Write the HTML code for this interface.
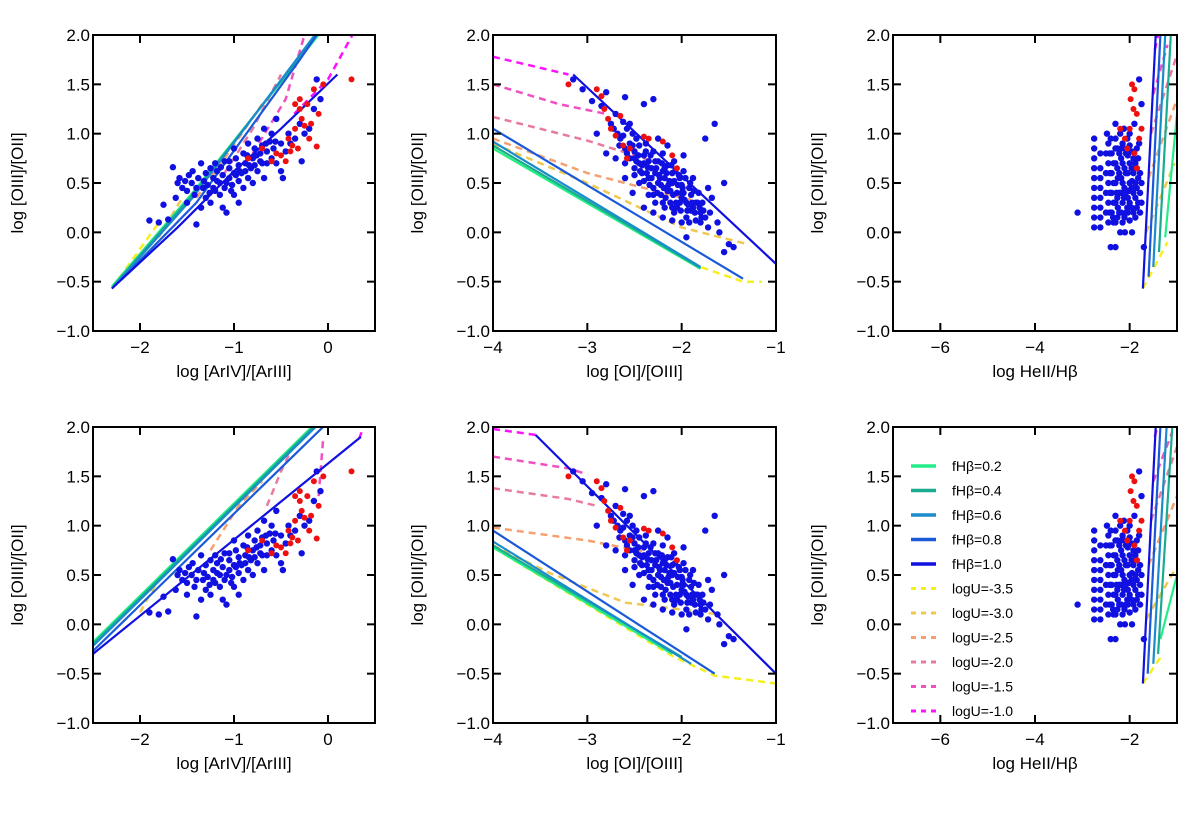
<!DOCTYPE html>
<html><head><meta charset="utf-8"><style>
body{margin:0;background:#fff;}
svg text{font-family:"Liberation Sans","DejaVu Sans",sans-serif;fill:#000;}
</style></head><body>
<svg id="fig" width="1200" height="811" viewBox="0 0 1200 811" xmlns="http://www.w3.org/2000/svg"></svg>
<script>
// ---- data ----
const fhbLabels=["fHβ=0.2","fHβ=0.4","fHβ=0.6","fHβ=0.8","fHβ=1.0"];
const fhbColors=["#22ee88","#1aab90","#1a8ccc","#1a5ad8","#1010e0"];
const logULabels=["logU=-3.5","logU=-3.0","logU=-2.5","logU=-2.0","logU=-1.5","logU=-1.0"];
const logUColors=["#f4f020","#f0c850","#f4a070","#e87aa0","#f050c0","#ff10ff"];
const yTicks=[-1.0,-0.5,0.0,0.5,1.0,1.5,2.0];
const xTicksA=[-2,-1,0];
const xTicksB=[-4,-3,-2,-1];
const xTicksC=[-6,-4,-2];
// scatter (shared by both rows)
const scatAblue=[[-1.9,0.12],[-1.8,0.1],[-1.75,0.28],[-1.7,0.13],[-1.65,0.66],[-1.6,0.5],[-1.58,0.55],[-1.55,0.45],[-1.5,0.3],[-1.5,0.42],[-1.45,0.5],[-1.42,0.38],[-1.4,0.08],[-1.38,0.55],[-1.35,0.25],[-1.33,0.45],[-1.3,0.6],[-1.3,0.35],[-1.28,0.48],[-1.25,0.3],[-1.22,0.55],[-1.2,0.42],[-1.2,0.7],[-1.18,0.62],[-1.15,0.5],[-1.15,0.38],[-1.12,0.58],[-1.1,0.45],[-1.1,0.72],[-1.08,0.2],[-1.05,0.55],[-1.05,0.65],[-1.02,0.48],[-1.0,0.6],[-1.0,0.38],[-0.98,0.75],[-0.95,0.52],[-0.95,0.68],[-0.92,0.6],[-0.9,0.45],[-0.9,0.8],[-0.88,0.7],[-0.85,0.55],[-0.85,0.9],[-0.82,0.65],[-0.8,0.75],[-0.8,0.5],[-0.78,0.85],[-0.75,0.62],[-0.75,0.95],[-0.72,0.8],[-0.7,0.7],[-0.7,0.88],[-0.68,0.55],[-0.65,0.82],[-0.62,0.92],[-0.6,0.75],[-0.6,1.0],[-0.58,0.85],[-0.55,0.7],[-0.55,1.15],[-0.5,0.9],[-0.5,0.62],[-0.48,0.55],[-0.45,0.82],[-0.42,1.0],[-0.4,0.9],[-0.35,0.95],[-0.3,1.1],[-0.28,0.72],[-0.25,1.0],[-0.2,1.05],[-0.15,1.25],[-0.12,1.55],[-0.08,1.35],[-1.48,0.58],[-1.62,0.35],[-1.25,0.65],[-1.0,0.85],[-0.68,1.05],[-1.35,0.7],[-1.12,0.25],[-0.95,0.3],[-1.4,0.45],[-1.18,0.52],[-1.05,0.72],[-0.88,0.62],[-0.78,0.68],[-0.65,0.7],[-1.32,0.52],[-1.22,0.45],[-1.08,0.5],[-0.98,0.58],[-0.86,0.78],[-0.76,0.78],[-0.66,0.9],[-0.56,0.92],[-1.44,0.62],[-1.26,0.4],[-1.14,0.66],[-0.94,0.62],[-0.84,0.68],[-0.72,0.72],[-1.52,0.52],[-1.03,0.42]];
const scatAred=[[-0.85,0.75],[-0.7,0.85],[-0.6,0.72],[-0.55,0.8],[-0.5,0.78],[-0.45,0.72],[-0.42,0.95],[-0.38,0.88],[-0.35,1.05],[-0.32,0.85],[-0.3,1.25],[-0.28,1.15],[-0.25,1.08],[-0.22,1.3],[-0.2,0.95],[-0.18,1.1],[-0.35,1.3],[-0.15,1.45],[-0.1,1.2],[0.25,1.55],[-0.05,1.5],[-0.3,1.35],[-0.12,0.87],[-0.4,0.82]];
const scatBblue=[[-3.15,1.55],[-3.05,1.45],[-2.95,1.33],[-2.85,1.28],[-2.8,1.42],[-2.75,1.1],[-2.7,1.2],[-2.68,1.0],[-2.65,0.95],[-2.62,1.12],[-2.6,0.85],[-2.58,1.05],[-2.55,0.9],[-2.55,0.75],[-2.52,1.0],[-2.5,0.82],[-2.5,0.65],[-2.48,0.95],[-2.45,0.7],[-2.45,0.88],[-2.42,0.6],[-2.4,0.78],[-2.4,1.3],[-2.38,0.9],[-2.35,0.55],[-2.35,0.72],[-2.32,0.65],[-2.3,0.82],[-2.3,0.45],[-2.28,0.6],[-2.25,0.72],[-2.25,0.5],[-2.22,0.38],[-2.2,0.62],[-2.2,0.8],[-2.18,0.55],[-2.15,0.42],[-2.15,0.68],[-2.12,0.3],[-2.1,0.5],[-2.1,0.6],[-2.08,0.72],[-2.05,0.4],[-2.05,0.25],[-2.02,0.55],[-2.0,0.35],[-2.0,0.48],[-1.98,0.62],[-1.95,0.3],[-1.95,0.15],[-1.92,0.45],[-1.9,0.38],[-1.9,0.22],[-1.88,0.55],[-1.85,0.3],[-1.85,0.12],[-1.82,0.4],[-1.8,0.2],[-1.78,0.3],[-1.75,0.15],[-1.72,0.05],[-1.7,0.2],[-1.68,0.35],[-1.6,0.0],[-1.55,-0.2],[-1.5,-0.12],[-1.45,-0.15],[-1.65,1.1],[-1.75,0.95],[-2.3,1.35],[-2.6,1.37],[-2.52,0.4],[-2.4,0.25],[-2.3,0.2],[-2.2,0.15],[-2.1,0.12],[-2.6,0.55],[-2.7,0.75],[-2.8,0.8],[-2.9,1.0],[-2.0,0.1],[-1.95,-0.05],[-1.62,0.1],[-1.55,0.5],[-2.25,0.95],[-2.15,0.88],[-1.98,0.78],[-1.72,0.45],[-2.45,0.5],[-2.35,0.38],[-2.28,0.3],[-2.18,0.25],[-2.08,0.2],[-2.02,0.3],[-1.92,0.1],[-2.12,0.42],[-2.22,0.48],[-2.32,0.55],[-2.42,0.68],[-2.5,0.75],[-2.38,0.82],[-2.28,0.72],[-2.18,0.65],[-2.08,0.52],[-1.98,0.4],[-1.88,0.25],[-1.8,0.1],[-2.62,0.98],[-2.55,1.1],[-2.72,1.05],
[-2.58,0.8],[-2.52,0.88],[-2.46,0.78],[-2.44,0.62],[-2.4,0.7],[-2.37,0.6],[-2.34,0.48],[-2.33,0.78],[-2.27,0.65],[-2.26,0.4],[-2.24,0.58],[-2.21,0.7],[-2.19,0.45],[-2.17,0.35],[-2.16,0.6],[-2.13,0.52],[-2.11,0.68],[-2.09,0.38],[-2.07,0.62],[-2.06,0.3],[-2.04,0.48],[-2.03,0.58],[-2.01,0.22],[-1.99,0.45],[-1.97,0.33],[-1.96,0.55],[-1.93,0.28],[-1.91,0.5],[-1.89,0.3],[-1.87,0.42],[-1.86,0.2],[-1.83,0.3],[-1.81,0.25],[-1.79,0.15],[-1.77,0.22],[-2.48,0.72],[-2.36,0.66],[-2.23,0.55],[-2.14,0.48],[-2.0,0.4],[-2.6,0.7],[-2.66,0.88],[-2.5,0.58],[-2.4,0.52],[-2.3,0.38],[-2.2,0.3],[-2.1,0.25],[-1.94,0.22]];
const scatBred=[[-3.2,1.5],[-2.9,1.45],[-2.85,1.38],[-2.82,1.25],[-2.78,1.15],[-2.75,1.05],[-2.7,0.98],[-2.65,1.18],[-2.62,0.88],[-2.55,0.85],[-2.4,0.97],[-2.35,0.95],[-2.2,0.92],[-2.1,0.78],[-2.05,0.65],[-2.58,0.75]];
const scatCblue=[[-2.75,0.05],[-2.75,0.15],[-2.75,0.25],[-2.75,0.35],[-2.75,0.45],[-2.75,0.55],[-2.75,0.65],[-2.75,0.75],[-2.75,0.85],[-2.75,0.95],[-2.62,0.05],[-2.62,0.15],[-2.62,0.25],[-2.62,0.35],[-2.62,0.45],[-2.62,0.55],[-2.62,0.65],[-2.62,0.8],[-3.1,0.2],[-2.45,0.1],[-2.45,0.3],[-2.45,0.5],[-2.45,0.7],[-2.45,0.9],[-2.38,0.2],[-2.38,0.4],[-2.38,0.6],[-2.38,0.8],[-2.3,0.1],[-2.3,0.3],[-2.3,0.5],[-2.3,0.7],[-2.3,0.85],[-2.22,0.2],[-2.22,0.4],[-2.22,0.6],[-2.22,0.8],[-2.15,0.1],[-2.15,0.3],[-2.15,0.5],[-2.15,0.7],[-2.15,0.9],[-2.08,0.2],[-2.08,0.4],[-2.08,0.6],[-2.08,0.8],[-2.0,0.12],[-2.0,0.3],[-2.0,0.5],[-2.0,0.7],[-2.0,0.88],[-1.92,0.2],[-1.92,0.4],[-1.92,0.6],[-1.92,0.75],[-1.85,0.25],[-1.85,0.45],[-1.85,0.65],[-1.78,0.2],[-1.78,0.4],[-1.78,0.6],[-1.8,1.55],[-1.75,1.3],[-2.3,1.1],[-2.4,0.95],[-1.9,1.1],[-2.05,0.95],[-1.8,0.9],[-2.4,-0.15],[-2.3,-0.15],[-2.1,0.0],[-1.95,0.0],[-2.2,0.0],[-1.7,-0.15],[-2.35,0.15],[-2.25,0.25],[-2.12,0.35],[-2.02,0.42],[-1.95,0.52],[-2.25,0.55],[-2.18,0.75],[-1.88,0.35],[-2.05,0.25],[-2.28,0.4],
[-2.42,0.2],[-2.42,0.4],[-2.42,0.6],[-2.42,0.8],[-2.34,0.1],[-2.34,0.3],[-2.34,0.5],[-2.34,0.7],[-2.26,0.15],[-2.26,0.35],[-2.26,0.65],[-2.26,0.85],[-2.18,0.2],[-2.18,0.4],[-2.18,0.55],[-2.18,0.85],[-2.11,0.15],[-2.11,0.45],[-2.11,0.65],[-2.11,0.85],[-2.04,0.2],[-2.04,0.35],[-2.04,0.6],[-2.04,0.78],[-1.96,0.25],[-1.96,0.45],[-1.96,0.65],[-1.96,0.82],[-1.88,0.15],[-1.88,0.5],[-1.88,0.7],[-1.82,0.3],[-1.82,0.55],[-1.82,0.75],[-1.75,0.3],[-1.75,0.5],[-2.5,0.2],[-2.5,0.4],[-2.5,0.6],[-2.5,0.8],[-2.48,1.0],[-2.2,1.0],[-2.0,1.0],[-1.85,0.85],[-2.12,1.05],[-2.3,0.95]];
const scatCred=[[-1.95,1.5],[-1.9,1.45],[-1.98,1.35],[-1.92,1.25],[-1.85,1.2],[-2.2,1.05],[-2.1,0.95],[-2.05,0.85],[-1.9,0.8],[-1.8,0.95],[-1.75,1.05],[-2.0,1.05],[-1.85,0.65]];
// model lines per panel: fhb[0..4], logU[0..5]
const p1fhb=[[[-2.3,-0.55],[-1.46,0.38],[-0.1,2.0]],[[-2.28,-0.54],[-1.45,0.37],[-0.12,2.0]],[[-2.26,-0.53],[-1.44,0.35],[-0.14,2.0]],[[-2.2,-0.48],[-1.4,0.3],[-0.3,1.75],[-0.12,2.0]],[[-2.3,-0.57],[-1.6,0.05],[-1.0,0.62],[-0.5,1.05],[0.1,1.6]]];
const p1logU=[[[-2.3,-0.57],[-1.8,0.1]],[[-1.8,-0.05],[-1.55,0.35]],[[-1.4,0.35],[-1.1,0.75],[-0.7,1.3]],[[-1.1,0.6],[-0.8,1.05],[-0.5,1.6]],[[-0.8,0.8],[-0.45,1.35],[-0.25,2.0]],[[-0.36,1.2],[0.0,1.55],[0.26,2.0]]];
const p2fhb=[[[-4,0.85],[-1.8,-0.37]],[[-4,0.88],[-1.8,-0.36]],[[-4,0.92],[-1.8,-0.35]],[[-4,1.05],[-1.35,-0.47]],[[-3.15,1.6],[-1,-0.32]]];
const p2logU=[[[-4,0.85],[-1.8,-0.35],[-1.35,-0.5],[-1.15,-0.5]],[[-4,0.9],[-3,0.5],[-2,0.05],[-1.3,-0.12]],[[-4,0.95],[-3,0.6],[-2.2,0.4],[-1.9,0.33]],[[-4,1.17],[-3,0.93],[-2.3,0.72]],[[-4,1.5],[-3.3,1.3],[-2.8,1.2]],[[-4,1.78],[-3.2,1.6]]];
const p3fhb=[[[-1.25,-0.05],[-1.0,1.2]],[[-1.38,-0.2],[-1.13,2.0]],[[-1.5,-0.35],[-1.25,2.0]],[[-1.6,-0.45],[-1.35,2.0]],[[-1.72,-0.57],[-1.45,2.0]]];
const p3logU=[[[-1.72,-0.57],[-1.2,-0.1]],[[-1.65,0.0],[-1.05,0.7]],[[-1.6,0.55],[-1.0,1.35]],[[-1.55,1.0],[-1.0,1.8]],[[-1.5,1.4],[-1.2,1.9]],[[-1.47,1.85],[-1.4,2.0]]];
const p4fhb=[[[-2.5,-0.18],[-0.12,2.05]],[[-2.5,-0.2],[-0.1,2.05]],[[-2.5,-0.22],[-0.08,2.05]],[[-2.5,-0.27],[-0.02,2.03]],[[-2.5,-0.3],[0.35,1.9]]];
const p4logU=[[[-2.5,-0.2],[-2.2,0.1]],[[-2.0,0.12],[-1.75,0.55]],[[-1.25,0.75],[-0.95,1.2],[-0.7,1.45]],[[-0.65,1.2],[-0.5,1.55],[-0.35,1.85]],[[-0.1,1.3],[-0.05,1.9]],[[0.33,1.88],[0.38,2.0]]];
const p5fhb=[[[-4,0.78],[-2.1,-0.3]],[[-4,0.8],[-2.0,-0.33]],[[-4,0.84],[-1.9,-0.4]],[[-4,0.95],[-1.65,-0.5]],[[-3.55,1.92],[-1,-0.5]]];
const p5logU=[[[-4,0.78],[-2.1,-0.32],[-1.65,-0.52],[-1,-0.6]],[[-4,0.8],[-3.4,0.52],[-2.6,0.22],[-2,0.15],[-1.6,0.1]],[[-4,0.98],[-3,0.85],[-2.2,0.7]],[[-4,1.38],[-3.2,1.27],[-2.9,1.2]],[[-4,1.7],[-3.2,1.58],[-3.0,1.52]],[[-4,1.98],[-3.55,1.92]]];
const p6fhb=[[[-1.35,-0.15],[-1.0,0.5]],[[-1.4,-0.3],[-1.1,2.0]],[[-1.5,-0.4],[-1.22,2.0]],[[-1.62,-0.5],[-1.35,2.0]],[[-1.72,-0.6],[-1.45,2.0]]];
const p6logU=[[[-1.72,-0.6],[-1.3,-0.3]],[[-1.65,0.05],[-1.05,0.55]],[[-1.6,0.6],[-1.0,1.3]],[[-1.55,1.05],[-1.0,1.8]],[[-1.5,1.45],[-1.1,1.95]],[[-1.47,1.9],[-1.42,2.0]]];

const panels=[
 {id:"panel-arIV-top",x0:93,x1:375,y0:35,y1:331,xlim:[-2.5,0.5],xt:xTicksA,xl:"log [ArIV]/[ArIII]",fhb:p1fhb,lu:p1logU,sb:scatAblue,sr:scatAred},
 {id:"panel-OI-top",x0:493,x1:776,y0:35,y1:331,xlim:[-4,-1],xt:xTicksB,xl:"log [OI]/[OIII]",fhb:p2fhb,lu:p2logU,sb:scatBblue,sr:scatBred},
 {id:"panel-HeII-top",x0:893,x1:1177,y0:35,y1:331,xlim:[-7,-1],xt:xTicksC,xl:"log HeII/Hβ",fhb:p3fhb,lu:p3logU,sb:scatCblue,sr:scatCred},
 {id:"panel-arIV-bottom",x0:93,x1:375,y0:427,y1:723,xlim:[-2.5,0.5],xt:xTicksA,xl:"log [ArIV]/[ArIII]",fhb:p4fhb,lu:p4logU,sb:scatAblue,sr:scatAred},
 {id:"panel-OI-bottom",x0:493,x1:776,y0:427,y1:723,xlim:[-4,-1],xt:xTicksB,xl:"log [OI]/[OIII]",fhb:p5fhb,lu:p5logU,sb:scatBblue,sr:scatBred},
 {id:"panel-HeII-bottom",x0:893,x1:1177,y0:427,y1:723,xlim:[-7,-1],xt:xTicksC,xl:"log HeII/Hβ",fhb:p6fhb,lu:p6logU,sb:scatCblue,sr:scatCred,legend:true}
];
const NS="http://www.w3.org/2000/svg";
const fig=document.getElementById("fig");
function mk(tag,attrs,parent){const e=document.createElementNS(NS,tag);for(const k in attrs)e.setAttribute(k,attrs[k]);parent.appendChild(e);return e;}
let clipN=0;
panels.forEach(p=>{
 const g=mk("g",{},fig);
 
 
 const sx=v=>p.x0+(v-p.xlim[0])/(p.xlim[1]-p.xlim[0])*(p.x1-p.x0);
 const sy=v=>p.y1-(v-(-1))/3*(p.y1-p.y0);
 const cid="c"+(clipN++);
 const cp=mk("clipPath",{id:cid},g);
 mk("rect",{x:p.x0,y:p.y0,width:p.x1-p.x0,height:p.y1-p.y0},cp);
 const plot=mk("g",{"clip-path":"url(#"+cid+")"},g);
 const pts=a=>a.map(q=>sx(q[0]).toFixed(1)+","+sy(q[1]).toFixed(1)).join(" ");
 p.lu.forEach((l,i)=>{const e=mk("polyline",{points:pts(l),fill:"none",stroke:logUColors[i],"stroke-width":2.5,"stroke-dasharray":"7,5"},plot);
  
  });
 p.fhb.forEach((l,i)=>{const e=mk("polyline",{points:pts(l),fill:"none",stroke:fhbColors[i],"stroke-width":2.2},plot);
  
  });
 p.sb.forEach(q=>{const e=mk("circle",{cx:sx(q[0]),cy:sy(q[1]),r:3.2,fill:"#1010e0"},plot);
  
  });
 p.sr.forEach(q=>{const e=mk("circle",{cx:sx(q[0]),cy:sy(q[1]),r:3,fill:"#ee1010"},plot);
  
  });
 const fr=mk("rect",{x:p.x0,y:p.y0,width:p.x1-p.x0,height:p.y1-p.y0,fill:"none",stroke:"#000","stroke-width":2},g);
 
 
 yTicks.forEach(v=>{const y=sy(v);
  mk("line",{x1:p.x0,x2:p.x0+8,y1:y,y2:y,stroke:"#000","stroke-width":2},g);
  mk("line",{x1:p.x1,x2:p.x1-8,y1:y,y2:y,stroke:"#000","stroke-width":2},g);
  const t=mk("text",{x:p.x0-3,y:y+6,"text-anchor":"end","font-size":17},g);t.textContent=v.toFixed(1).replace("-","−");
  
  });
 p.xt.forEach(v=>{const x=sx(v);
  mk("line",{x1:x,x2:x,y1:p.y1,y2:p.y1-8,stroke:"#000","stroke-width":2},g);
  mk("line",{x1:x,x2:x,y1:p.y0,y2:p.y0+8,stroke:"#000","stroke-width":2},g);
  const t=mk("text",{x:x,y:p.y1+22,"text-anchor":"middle","font-size":17},g);t.textContent=String(v).replace("-","−");
  
  });
 const xl=mk("text",{x:(p.x0+p.x1)/2,y:p.y1+46,"text-anchor":"middle","font-size":17},g);xl.textContent=p.xl;
 
 
 const yc=(p.y0+p.y1)/2, yx=p.x0-70;
 const yl=mk("text",{x:yx,y:yc,"text-anchor":"middle","font-size":17,transform:"rotate(-90 "+yx+" "+yc+")"},g);yl.textContent="log [OIII]/[OII]";
 
 
 if(p.legend){
  const lg=mk("g",{},g);
  
  
  const labs=fhbLabels.concat(logULabels), cols=fhbColors.concat(logUColors);
  labs.forEach((lab,i)=>{const y=466+i*24.5;
   const ln=mk("line",{x1:911,x2:936,y1:y,y2:y,stroke:cols[i],"stroke-width":i<5?3.5:3,"stroke-dasharray":i<5?"none":"5,5"},lg);
   
   
   const t=mk("text",{x:952,y:y+5,"font-size":14},lg);t.textContent=lab;
   
   });
 }
});
</script>
</body></html>
